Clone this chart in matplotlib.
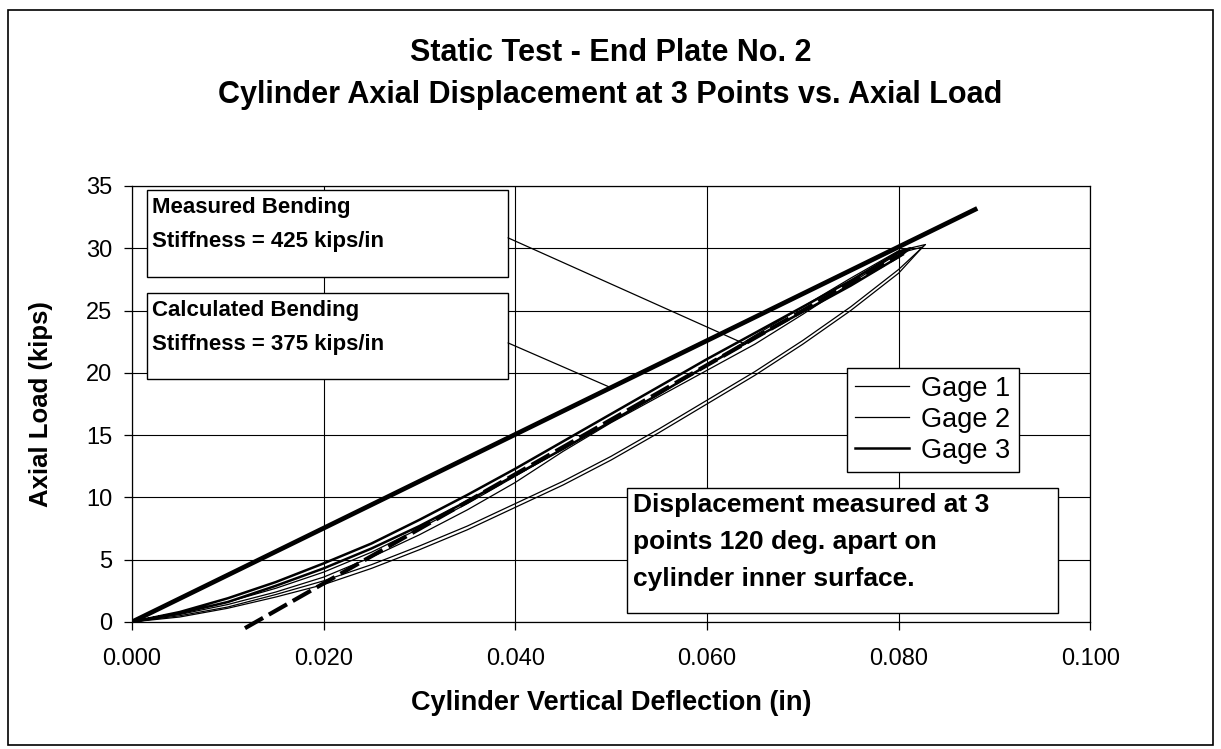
import numpy as np
import matplotlib.pyplot as plt
from matplotlib.patches import Rectangle
from matplotlib.ticker import FormatStrFormatter

plt.rcParams['font.family'] = ['Liberation Sans', 'DejaVu Sans']

# fitted stiffness lines (deflection in, load kips)
calc_x = [0.0, 0.0882]
calc_y = [0.0, 33.2]
meas_x = [0.0118, 0.0805]
meas_y = [-0.5, 29.6]

# gage traces: loading branch then unloading branch
gage1_x = [0.000, 0.005, 0.010, 0.015, 0.020, 0.025, 0.030, 0.035, 0.040, 0.045,
           0.050, 0.055, 0.060, 0.065, 0.070, 0.075, 0.080, 0.0825,
           0.080, 0.075, 0.070, 0.065, 0.060, 0.055, 0.050, 0.045, 0.040,
           0.035, 0.030, 0.025, 0.020, 0.015, 0.010, 0.005, 0.000]
gage1_y = [0.0, 0.4, 1.1, 2.0, 3.0, 4.3, 5.8, 7.4, 9.2, 11.0,
           13.0, 15.2, 17.5, 19.8, 22.3, 25.0, 28.0, 30.1,
           29.6, 27.2, 24.7, 22.3, 20.2, 18.1, 16.0, 13.7, 11.2,
           9.0, 7.0, 5.2, 3.6, 2.4, 1.4, 0.6, 0.0]

gage2_x = [0.000, 0.005, 0.010, 0.015, 0.020, 0.025, 0.030, 0.035, 0.040, 0.045,
           0.050, 0.055, 0.060, 0.065, 0.070, 0.075, 0.080, 0.0828,
           0.080, 0.075, 0.070, 0.065, 0.060, 0.055, 0.050, 0.045, 0.040,
           0.035, 0.030, 0.025, 0.020, 0.015, 0.010, 0.005, 0.000]
gage2_y = [0.0, 0.5, 1.2, 2.2, 3.3, 4.6, 6.1, 7.7, 9.5, 11.3,
           13.3, 15.5, 17.8, 20.1, 22.6, 25.3, 28.3, 30.3,
           29.8, 27.6, 25.3, 23.0, 20.6, 18.3, 16.1, 13.9, 11.7,
           9.5, 7.5, 5.6, 4.0, 2.7, 1.6, 0.7, 0.0]

gage3_x = [0.000, 0.005, 0.010, 0.015, 0.020, 0.025, 0.030, 0.035, 0.040, 0.045,
           0.050, 0.055, 0.060, 0.065, 0.070, 0.075, 0.080, 0.0812,
           0.080, 0.075, 0.070, 0.065, 0.060, 0.055, 0.050, 0.045, 0.040,
           0.035, 0.030, 0.025, 0.020, 0.015, 0.010, 0.005, 0.000]
gage3_y = [0.0, 0.7, 1.6, 2.9, 4.3, 5.9, 7.7, 9.7, 11.8, 13.9,
           16.1, 18.3, 20.6, 22.8, 24.9, 27.0, 29.3, 30.0,
           29.7, 27.4, 25.3, 23.2, 21.1, 18.9, 16.7, 14.5, 12.3,
           10.2, 8.2, 6.3, 4.7, 3.2, 1.9, 0.8, 0.0]

fig = plt.figure(figsize=(12.21, 7.49), dpi=100)
ax = fig.add_axes([0.108, 0.1696, 0.785, 0.5821])

ax.plot(gage1_x, gage1_y, color='black', lw=0.9, label='Gage 1', zorder=4)
ax.plot(gage2_x, gage2_y, color='black', lw=0.9, label='Gage 2', zorder=4)
ax.plot(gage3_x, gage3_y, color='black', lw=1.8, label='Gage 3', zorder=4)

ax.plot(calc_x, calc_y, color='black', lw=3.4, solid_capstyle='butt', zorder=5)
ax.plot(meas_x, meas_y, color='black', lw=3.0, dashes=(5, 1.6), clip_on=False, zorder=5)

ax.set_xlim(0, 0.1)
ax.set_ylim(0, 35)
ax.set_xticks(np.arange(0, 0.1001, 0.02))
ax.set_yticks(np.arange(0, 36, 5))
ax.xaxis.set_major_formatter(FormatStrFormatter('%.3f'))
ax.grid(True, color='black', lw=0.8)
ax.set_axisbelow(True)
for s in ax.spines.values():
    s.set_linewidth(0.9)
ax.tick_params(labelsize=17, direction='out', length=6, width=0.9, pad=8)
ax.tick_params(axis='x', pad=13)

ax.set_xlabel('Cylinder Vertical Deflection (in)', fontsize=19.5, fontweight='bold', labelpad=14)
ax.set_ylabel('Axial Load (kips)', fontsize=18.5, fontweight='bold', labelpad=24)

fig.text(0.5, 0.929, 'Static Test - End Plate No. 2', ha='center', va='center',
         fontsize=22, fontweight='bold')
fig.text(0.5, 0.873, 'Cylinder Axial Displacement at 3 Points vs. Axial Load', ha='center',
         va='center', fontsize=22, fontweight='bold')

# annotation boxes
boxes = [(0.0157, 0.791, 0.3768, 0.200), (0.0157, 0.557, 0.3768, 0.1976)]
for bx, by, bw, bh in boxes:
    ax.add_patch(Rectangle((bx, by), bw, bh, transform=ax.transAxes, facecolor='white',
                           edgecolor='black', lw=1.0, zorder=3))
ax.text(0.021, 0.975, 'Measured Bending\nStiffness = 425 kips/in', transform=ax.transAxes,
        ha='left', va='top', fontsize=16, fontweight='bold', linespacing=1.8, zorder=6)
ax.text(0.021, 0.739, 'Calculated Bending\nStiffness = 375 kips/in', transform=ax.transAxes,
        ha='left', va='top', fontsize=16, fontweight='bold', linespacing=1.8, zorder=6)
ax.annotate('', xy=(0.064, 22.3), xycoords='data', xytext=(0.3925, 0.881),
            textcoords='axes fraction',
            arrowprops=dict(arrowstyle='-', lw=0.9, color='black', shrinkA=0, shrinkB=0))
ax.annotate('', xy=(0.050, 18.8), xycoords='data', xytext=(0.3925, 0.640),
            textcoords='axes fraction',
            arrowprops=dict(arrowstyle='-', lw=0.9, color='black', shrinkA=0, shrinkB=0))

ax.add_patch(Rectangle((0.517, 0.021), 0.4496, 0.286, transform=ax.transAxes,
                       facecolor='white', edgecolor='black', lw=1.0, zorder=3))
ax.text(0.523, 0.296, 'Displacement measured at 3\npoints 120 deg. apart on\ncylinder inner surface.',
        transform=ax.transAxes, ha='left', va='top', fontsize=19, fontweight='bold',
        linespacing=1.68, zorder=6)

leg = ax.legend(loc='upper left', bbox_to_anchor=(0.746, 0.583), fontsize=19.5,
                frameon=True, fancybox=False, edgecolor='black', framealpha=1,
                handlelength=2.0, handletextpad=0.45, labelspacing=0.18, borderpad=0.3,
                borderaxespad=0)
leg.get_frame().set_linewidth(1.0)
leg.set_zorder(6)

fig.patches.append(Rectangle((8 / 1221, 4 / 749), 1205 / 1221, 735 / 749,
                             transform=fig.transFigure, fill=False, edgecolor='black', lw=1.2))

fig.savefig('out.png', dpi=100)
